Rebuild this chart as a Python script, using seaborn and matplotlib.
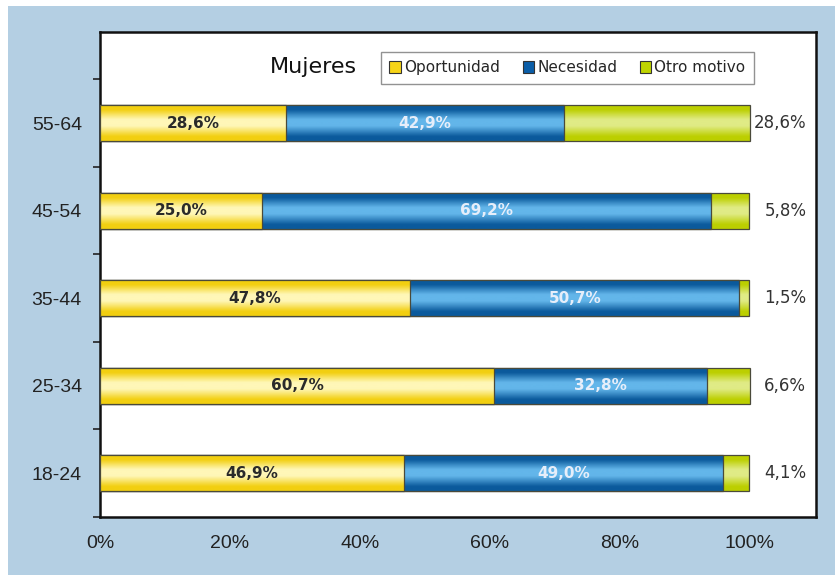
import numpy as np
import pandas as pd
import seaborn as sns
import matplotlib.pyplot as plt
from matplotlib.colors import LinearSegmentedColormap
from matplotlib.patches import Rectangle, Patch
from matplotlib.ticker import FixedLocator

# Data
edades = ['55-64', '45-54', '35-44', '25-34', '18-24']
oportunidad = [28.6, 25.0, 47.8, 60.7, 46.9]
necesidad = [42.9, 69.2, 50.7, 32.8, 49.0]
otro = [28.6, 5.8, 1.5, 6.6, 4.1]
series = ['Oportunidad', 'Necesidad', 'Otro motivo']

df = pd.DataFrame({'edad': edades, 'Oportunidad': oportunidad,
                   'Necesidad': necesidad, 'Otro motivo': otro})
df['c1'] = df['Oportunidad']
df['c2'] = df['c1'] + df['Necesidad']
df['c3'] = df['c2'] + df['Otro motivo']

# colours: (edge/dark, light centre)
grad = {'Oportunidad': ('#f2cf10', '#fff7b8'),
        'Necesidad': ('#0b5a9c', '#63b6ea'),
        'Otro motivo': ('#bccf00', '#e0eb86')}
legend_col = {'Oportunidad': '#f7d417', 'Necesidad': '#0b5ea8', 'Otro motivo': '#bfd400'}

sns.set_style('white')
plt.rcParams['font.family'] = ['DejaVu Sans']

fig = plt.figure(figsize=(8.35, 5.75), dpi=100, facecolor='white')
fig.patches.append(Rectangle((8 / 835, 0), 1, 1 - 6 / 575, transform=fig.transFigure,
                             facecolor='#b4cfe3', edgecolor='none', zorder=-10))
ax = fig.add_axes([100 / 835, 1 - 517 / 575, 716 / 835, 485 / 575])
ax.set_facecolor('white')

# stacked bars, drawn back to front
layers = [('c3', 'Otro motivo'), ('c2', 'Necesidad'), ('c1', 'Oportunidad')]
for col, name in layers:
    n0 = len(ax.patches)
    sns.barplot(data=df, x=col, y='edad', order=edades, orient='h', width=0.41,
                color=legend_col[name], ax=ax)
    for p in ax.patches[n0:]:
        p.set_gid(name)

xl = (0, 110.3)
yl = (4.5, -1.04)

z = 1
for p in list(ax.patches):
    name = p.get_gid()
    dark, light = grad[name]
    cmap = LinearSegmentedColormap.from_list(
        name, [(0, dark), (0.12, dark), (0.4, light), (0.58, light), (0.88, dark), (1, dark)])
    x0, y0, w, h = p.get_x(), p.get_y(), p.get_width(), p.get_height()
    g = np.linspace(0, 1, 64).reshape(-1, 1)
    ax.imshow(g, cmap=cmap, aspect='auto', origin='upper',
              extent=(x0, x0 + w, y0 + h, y0), zorder=z, interpolation='bicubic')
    p.set_facecolor('none')
    p.set_edgecolor('#4a4a3a')
    p.set_linewidth(0.9)
    p.set_zorder(z + 0.5)
    z += 1

ax.set_xlim(*xl)
ax.set_ylim(*yl)

# value labels
for i in range(len(edades)):
    ax.text(df['c1'][i] / 2, i, f"{oportunidad[i]:.1f}%".replace('.', ','),
            ha='center', va='center', fontsize=11, fontweight='bold', color='#2a2a2a', zorder=50)
    ax.text(df['c1'][i] + necesidad[i] / 2, i, f"{necesidad[i]:.1f}%".replace('.', ','),
            ha='center', va='center', fontsize=11, fontweight='bold', color='#e6eefa', zorder=50)
    ax.text(108.8, i, f"{otro[i]:.1f}%".replace('.', ','),
            ha='right', va='center', fontsize=12, color='#333333', zorder=50)

ax.set_xticks([0, 20, 40, 60, 80, 100])
ax.set_xticklabels(['0%', '20%', '40%', '60%', '80%', '100%'])
ax.yaxis.set_minor_locator(FixedLocator([-0.5, 0.5, 1.5, 2.5, 3.5, 4.5]))
ax.tick_params(axis='x', which='major', direction='out', length=5, width=1.2,
               color='#222', labelsize=14, pad=8, labelcolor='#222')
ax.tick_params(axis='y', which='major', length=0, labelsize=14, pad=13, labelcolor='#222')
ax.tick_params(axis='y', which='minor', direction='out', length=5, width=1.2, color='#222', left=True)
for lab in ax.get_xticklabels() + ax.get_yticklabels():
    lab.set_fontfamily(['Liberation Sans', 'DejaVu Sans'])
ax.set_xlabel('')
ax.set_ylabel('')
for s in ax.spines.values():
    s.set_visible(True)
    s.set_color('#111')
    s.set_linewidth(1.8)

# legend
handles = [Patch(facecolor=legend_col[s], edgecolor='#333', linewidth=0.8) for s in series]
leg = fig.legend(handles, series, loc='upper right', bbox_to_anchor=(754 / 835, 1 - 52 / 575),
                 ncol=3, fontsize=11, frameon=True, fancybox=False, handlelength=0.75,
                 handleheight=0.75, handletextpad=0.2, columnspacing=1.5, borderpad=0.55,
                 borderaxespad=0)
leg.get_frame().set_edgecolor('#777')
leg.get_frame().set_linewidth(1.0)
fig.text(313 / 835, 1 - 67 / 575, 'Mujeres', ha='center', va='center', fontsize=16, color='#111')

fig.savefig('out.png', dpi=100, facecolor=fig.get_facecolor())
